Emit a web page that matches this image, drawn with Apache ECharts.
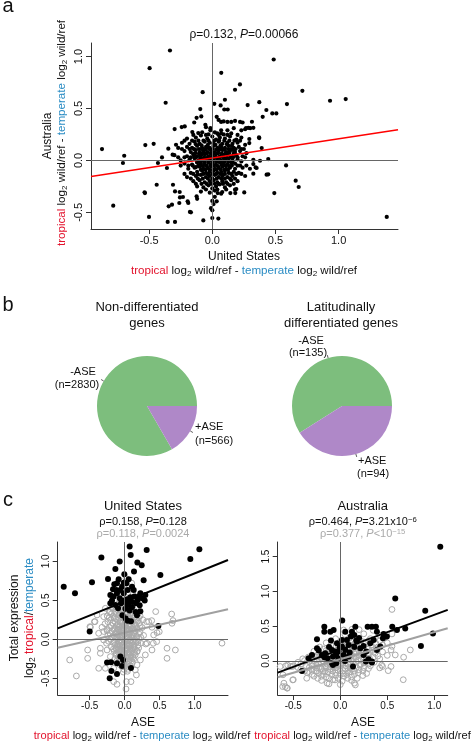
<!DOCTYPE html>
<html><head><meta charset="utf-8">
<script src="https://cdn.jsdelivr.net/npm/echarts@6/dist/echarts.min.js"></script>
<style>html,body{margin:0;padding:0;background:#fff}#c{width:472px;height:743px}</style>
</head><body><div id="c"></div>
<script>
// ---------------- DATA ----------------
// Panel a: US (x) vs Australia (y) differences
const ptsA = [
[-0.335,1.058],[-0.496,0.888],[0.071,0.843],[0.219,0.731],[0.18,0.68],[-0.076,0.657],[-0.369,0.555],[0.016,0.545],[0.1,0.584],[0.066,0.529],[0.095,0.49],[0.122,0.49],[-0.095,0.494],[-0.124,0.41],[-0.087,0.423],[-0.143,0.365],[-0.055,0.343],[-0.05,0.32],
[0.035,0.42],[0.05,0.39],[0.07,0.37],[0.09,0.375],[0.12,0.37],[0.15,0.37],[0.18,0.38],[0.22,0.37],[0.24,0.365],
[-0.298,0.302],[-0.242,0.321],[-0.218,0.327],[-0.158,0.273],[-0.111,0.263],[-0.015,0.31],[-0.015,0.29],
[0.07,0.29],[0.12,0.29],[0.17,0.31],[0.23,0.29],[0.26,0.3],[0.04,0.26],[0.07,0.26],
[0.486,0.971],[0.713,0.67],[0.932,0.574],[1.056,0.59],[0.591,0.542],[0.372,0.561],[0.28,0.533],[0.428,0.485],[0.475,0.452],[0.507,0.452],[0.399,0.42],[0.314,0.372],[0.267,0.31],[0.30,0.31],
[-0.873,0.109],[-0.697,0.045],[-0.707,-0.025],[-0.53,0.148],[-0.464,0.16],[-0.784,-0.436],[-0.533,-0.314],[-0.501,-0.544],[-0.44,-0.234],[-0.345,-0.442],[-0.353,-0.592],[-0.295,-0.592],[-0.169,-0.5],
[-0.311,-0.234],[-0.295,-0.298],[-0.258,-0.304],[-0.232,-0.352],[-0.195,-0.394],[-0.261,-0.41],[-0.124,-0.346],[-0.12,-0.37],[-0.177,-0.496],[-0.071,-0.577],
[-0.43,-0.025],[-0.359,-0.073],[-0.398,0.029],[-0.348,0.113],[-0.314,0.055],[-0.287,0.151],[-0.536,-0.307],[-0.319,-0.426],[-0.256,-0.356],[-0.19,-0.41],
[0,-0.554],[0.048,-0.56],[0,-0.48],[0.0,-0.39],[0.01,-0.42],[-0.01,-0.46],[0.02,-0.35],[0.035,-0.394],
[0.043,-0.314],[0.079,-0.304],[0.143,-0.314],[0.182,-0.314],[0.19,-0.275],[0.253,-0.308],[0.18,-0.282],
[1.381,-0.544],[0.66,-0.195],[0.684,-0.256],[0.491,-0.314],[0.584,-0.048],[0.443,-0.134],[0.443,0.013],[0.372,0.215],[0.391,0.119],[0.293,0.206],[0.293,0.167],[0.378,-0.003],[0.343,-0.067],[0.325,0.006],[0.325,-0.035],[0.298,-0.08],[0.325,-0.128],[0.37,0.221],[0.325,0.314],[0.285,0.314],[0.43,-0.137],[0.351,-0.073],
[-0.2,0.21],[-0.13,0.22],[-0.09,0.24],[-0.04,0.21],[0.0,0.23],[0.03,0.2],[0.06,0.22],[0.1,0.21],[0.14,0.23],[0.19,0.2],[0.23,0.22],
[-0.24,0.17],[-0.18,0.16],[-0.14,0.18],[-0.1,0.16],[-0.06,0.18],[-0.02,0.17],[0.01,0.16],[0.05,0.18],[0.08,0.16],[0.12,0.17],[0.16,0.16],[0.2,0.17],[0.26,0.15],
[-0.27,0.12],[-0.2,0.13],[-0.16,0.12],[-0.12,0.14],[-0.08,0.12],[-0.05,0.13],[-0.02,0.12],[0.01,0.14],[0.04,0.12],[0.07,0.13],[0.1,0.12],[0.13,0.14],[0.17,0.12],[0.21,0.13],[0.25,0.11],
[-0.22,0.09],[-0.17,0.08],[-0.13,0.1],[-0.1,0.08],[-0.07,0.09],[-0.04,0.08],[-0.01,0.1],[0.02,0.08],[0.05,0.09],[0.08,0.1],[0.11,0.08],[0.14,0.09],[0.18,0.08],[0.22,0.09],[0.27,0.07],
[-0.3,0.05],[-0.2,0.04],[-0.15,0.06],[-0.12,0.04],[-0.09,0.05],[-0.06,0.06],[-0.03,0.04],[0.0,0.05],[0.03,0.06],[0.06,0.04],[0.09,0.05],[0.12,0.06],[0.15,0.04],[0.19,0.05],[0.24,0.04],
[-0.25,0.0],[-0.18,0.01],[-0.14,0.02],[-0.11,0.0],[-0.08,0.01],[-0.05,0.02],[-0.02,0.0],[0.01,0.01],[0.04,0.02],[0.07,0.0],[0.1,0.01],[0.13,0.02],[0.16,0.0],[0.2,0.01],[0.23,-0.01],
[-0.22,-0.03],[-0.16,-0.04],[-0.12,-0.02],[-0.09,-0.03],[-0.06,-0.04],[-0.03,-0.02],[0.0,-0.03],[0.03,-0.04],[0.06,-0.02],[0.09,-0.03],[0.12,-0.04],[0.15,-0.02],[0.18,-0.03],[0.22,-0.05],
[-0.19,-0.08],[-0.14,-0.07],[-0.1,-0.06],[-0.07,-0.08],[-0.04,-0.07],[-0.01,-0.06],[0.02,-0.08],[0.05,-0.07],[0.08,-0.06],[0.11,-0.08],[0.14,-0.07],[0.18,-0.08],[0.24,-0.07],
[-0.17,-0.12],[-0.12,-0.11],[-0.08,-0.1],[-0.05,-0.12],[-0.02,-0.11],[0.01,-0.1],[0.04,-0.12],[0.07,-0.11],[0.1,-0.1],[0.13,-0.12],[0.17,-0.11],[0.21,-0.12],
[-0.2,-0.16],[-0.13,-0.15],[-0.09,-0.14],[-0.05,-0.16],[-0.02,-0.15],[0.02,-0.14],[0.05,-0.16],[0.08,-0.15],[0.12,-0.16],[0.16,-0.15],[0.26,-0.15],
[-0.15,-0.2],[-0.1,-0.19],[-0.06,-0.21],[-0.02,-0.2],[0.01,-0.19],[0.04,-0.21],[0.08,-0.2],[0.11,-0.21],[0.15,-0.19],[0.2,-0.2],
[-0.12,-0.25],[-0.07,-0.26],[-0.03,-0.24],[0.0,-0.27],[0.03,-0.25],[0.06,-0.23],[0.1,-0.26],[0.14,-0.24],
[-0.09,-0.3],[-0.02,-0.31],[0.02,-0.29],[0.07,-0.32],
[-0.08,0.27],[-0.03,0.25],[0.02,0.27],[0.09,0.25],[0.15,0.26],
[-0.13,0.155],[-0.085,0.145],[-0.035,0.15],[0.025,0.15],[0.065,0.145],[0.115,0.155],[0.155,0.14],
[-0.14,0.105],[-0.085,0.11],[-0.055,0.105],[-0.025,0.11],[0.035,0.105],[0.065,0.11],[0.095,0.105],[0.125,0.11],[0.165,0.1],
[-0.135,0.07],[-0.105,0.065],[-0.075,0.07],[-0.045,0.065],[-0.015,0.07],[0.015,0.065],[0.045,0.07],[0.075,0.065],[0.105,0.07],[0.135,0.075],[0.17,0.065],
[-0.13,0.03],[-0.095,0.025],[-0.065,0.03],[-0.035,0.025],[-0.005,0.03],[0.025,0.03],[0.055,0.025],[0.085,0.03],[0.115,0.025],[0.145,0.03],
[-0.12,-0.015],[-0.09,-0.01],[-0.06,-0.015],[-0.03,-0.01],[0.005,-0.015],[0.035,-0.01],[0.065,-0.015],[0.095,-0.01],[0.125,-0.015],[0.16,-0.015],
[-0.11,-0.05],[-0.075,-0.055],[-0.045,-0.05],[-0.015,-0.045],[0.015,-0.05],[0.045,-0.055],[0.075,-0.045],[0.105,-0.05],[0.135,-0.055],
[-0.09,-0.09],[-0.055,-0.09],[-0.025,-0.085],[0.005,-0.09],[0.035,-0.09],[0.065,-0.085],[0.095,-0.09],[0.125,-0.09],
[-0.07,-0.13],[-0.035,-0.13],[0.0,-0.13],[0.03,-0.13],[0.065,-0.13],[0.1,-0.13],
[-0.22,0.19],[-0.16,0.19],[-0.11,0.19],[-0.07,0.19],[-0.03,0.19],[0.015,0.19],[0.055,0.19],[0.095,0.19],[0.135,0.19],[0.175,0.19],[0.22,0.19],
[-0.24,0.11],[-0.18,0.11],[-0.145,0.11],[-0.105,0.11],[-0.035,0.125],[0.005,0.11],[0.055,0.115],[0.145,0.11],[0.185,0.11],[0.23,0.11],
[-0.27,0.03],[-0.22,0.03],[-0.17,0.03],[-0.145,0.045],[0.165,0.03],[0.2,0.03],[0.26,0.03],
[-0.25,-0.05],[-0.19,-0.05],[-0.155,-0.05],[-0.13,-0.065],[0.155,-0.05],[0.2,-0.05],[0.27,-0.05],
[-0.22,-0.13],[-0.15,-0.13],[-0.115,-0.135],[0.15,-0.13],[0.19,-0.13],[0.23,-0.13],[-0.03,-0.135],[0.085,-0.135],
[-0.17,-0.175],[-0.115,-0.175],[-0.075,-0.175],[-0.035,-0.175],[0.0,-0.175],[0.035,-0.175],[0.07,-0.175],[0.1,-0.175],[0.14,-0.175],[0.18,-0.175],
[-0.13,-0.225],[-0.085,-0.225],[-0.045,-0.225],[-0.01,-0.225],[0.02,-0.225],[0.05,-0.225],[0.085,-0.225],[0.12,-0.225],[0.17,-0.225],
[-0.15,0.245],[-0.05,0.245],[0.05,0.245],[0.12,0.245],[0.2,0.245],
[-0.05,-0.28],[0.04,-0.28],[0.11,-0.28]
];
const fitA = [0.023, 0.185];          // intercept, slope (red line)

// Panel b: pies
const pieCats = ['-ASE', '+ASE'];
const pieNonDiff = [2830, 566];
const pieLatDiff = [135, 94];
const pieTitles = [['Non-differentiated', 'genes'], ['Latitudinally', 'differentiated genes']];

// Panel c: United States
const usAll = [
[1.39,-0.05],[-0.786,-0.265],[-0.69,-0.47],[-0.529,-0.137],[-0.529,-0.244],[-0.371,-0.372],[-0.49,0.154],[-0.433,0.226],[-0.348,-0.115],[-0.348,-0.179],[0.019,-0.637],[0.167,-0.457],[0.176,-0.329],[0.443,0.355],[0.676,0.205],[0.69,0.24],[0.605,-0.115],[0.605,-0.244],[0.724,-0.137],[-0.395,0.312],[-0.3,0.29],[-0.276,0.397],[-0.205,0.354],[-0.324,0.154],[-0.252,0.111],[0.343,0.226],[0.39,0.154],[0.414,0.056],[0.462,0.085],[0.319,-0.051],[0.39,-0.137],[0.295,-0.2],[0.224,-0.265],[0.176,-0.158],[-0.205,-0.222],[-0.252,-0.137],[-0.3,-0.009],[-0.372,0.077],[-0.276,-0.372],[-0.157,-0.372],[0.152,-0.393],[0.09,-0.543],[-0.157,-0.543],[-0.11,-0.577],[0.024,-0.543],[0.3,-0.06],[0.409,-0.051],[0.457,-0.03],[0.494,0.097],[0.314,0.226],[0.386,0.239],[0.671,0.324],[-0.496,0.162],[-0.424,0.226],
[-0.1,0.45],[0.04,0.46],[0.12,0.44],
[-0.18,0.4],[-0.06,0.41],[0.02,0.39],[0.08,0.41],[0.16,0.4],
[-0.22,0.35],[-0.13,0.36],[-0.04,0.34],[0.03,0.35],[0.1,0.36],[0.2,0.34],
[-0.25,0.3],[-0.16,0.29],[-0.08,0.31],[-0.02,0.3],[0.05,0.29],[0.12,0.31],[0.22,0.3],
[-0.2,0.25],[-0.12,0.26],[-0.06,0.24],[0.0,0.25],[0.06,0.26],[0.1,0.24],[0.17,0.25],[0.26,0.25],
[-0.28,0.2],[-0.17,0.21],[-0.1,0.19],[-0.04,0.2],[0.02,0.21],[0.08,0.19],[0.14,0.2],[0.21,0.21],
[-0.22,0.15],[-0.14,0.14],[-0.08,0.16],[-0.03,0.15],[0.03,0.14],[0.07,0.16],[0.12,0.15],[0.18,0.14],[0.25,0.15],
[-0.3,0.1],[-0.18,0.11],[-0.12,0.09],[-0.06,0.1],[-0.01,0.11],[0.04,0.09],[0.09,0.1],[0.15,0.11],[0.22,0.09],
[-0.24,0.05],[-0.15,0.04],[-0.09,0.06],[-0.04,0.05],[0.01,0.04],[0.06,0.06],[0.11,0.05],[0.17,0.04],[0.27,0.05],
[-0.2,0.0],[-0.13,0.01],[-0.07,-0.01],[-0.02,0.0],[0.03,0.01],[0.08,-0.01],[0.14,0.0],[0.2,0.01],
[-0.26,-0.05],[-0.16,-0.04],[-0.1,-0.06],[-0.05,-0.05],[0.0,-0.04],[0.05,-0.06],[0.1,-0.05],[0.16,-0.04],[0.23,-0.05],
[-0.19,-0.1],[-0.12,-0.11],[-0.07,-0.09],[-0.02,-0.1],[0.03,-0.11],[0.08,-0.09],[0.13,-0.1],[0.2,-0.11],
[-0.15,-0.15],[-0.09,-0.16],[-0.04,-0.14],[0.01,-0.15],[0.06,-0.16],[0.11,-0.14],[0.18,-0.15],
[-0.12,-0.2],[-0.06,-0.21],[-0.01,-0.19],[0.04,-0.2],[0.09,-0.21],[0.15,-0.2],
[-0.14,-0.25],[-0.08,-0.26],[-0.02,-0.24],[0.03,-0.25],[0.08,-0.26],[0.13,-0.25],
[-0.07,-0.3],[-0.01,-0.31],[0.05,-0.29],[0.11,-0.3],
[-0.04,-0.35],[0.02,-0.36],[0.08,-0.34],
[-0.02,-0.42],[0.04,-0.41],
[-0.05,0.38],[0.0,0.32],[-0.03,0.22],[0.0,0.17],[-0.05,0.12],[0.0,0.07],[-0.05,0.02],[0.0,-0.02],[-0.04,-0.08],[0.0,-0.13],[0.05,-0.13],[0.05,0.12],[0.05,0.22],[0.05,-0.02],[-0.1,0.02],[0.1,0.02],[-0.1,0.13],[0.1,0.13],[-0.09,-0.13],[0.08,0.33],[-0.07,0.5],[0.0,0.55],[0.08,0.5],[0.12,0.58],[-0.1,0.6],[0.05,0.65],[0.1,0.72],[0.02,0.78],
[-0.14,0.425],[0.0,0.425],[0.08,0.425],
[-0.1,0.375],[-0.02,0.375],[0.06,0.375],[0.13,0.375],
[-0.19,0.325],[-0.12,0.325],[-0.06,0.325],[0.08,0.325],[0.16,0.325],
[-0.22,0.275],[-0.15,0.275],[-0.09,0.275],[-0.03,0.275],[0.03,0.275],[0.08,0.275],[0.14,0.275],[0.2,0.275],
[-0.24,0.225],[-0.14,0.225],[-0.07,0.225],[0.05,0.235],[0.11,0.225],[0.18,0.225],
[-0.19,0.175],[-0.12,0.175],[-0.06,0.175],[0.01,0.185],[0.05,0.175],[0.1,0.175],[0.16,0.175],[0.22,0.175],
[-0.25,0.125],[-0.15,0.125],[-0.09,0.125],[-0.03,0.125],[0.02,0.125],[0.07,0.125],[0.12,0.125],[0.18,0.125],
[-0.21,0.075],[-0.12,0.075],[-0.07,0.075],[-0.02,0.075],[0.02,0.075],[0.07,0.075],[0.13,0.075],[0.2,0.075],
[-0.17,0.025],[-0.11,0.025],[-0.07,0.025],[0.06,0.025],[0.11,0.025],[0.17,0.025],[0.23,0.025],
[-0.23,-0.025],[-0.15,-0.025],[-0.08,-0.025],[0.02,-0.025],[0.08,-0.025],[0.12,-0.025],[0.19,-0.025],
[-0.14,-0.075],[-0.08,-0.075],[-0.03,-0.075],[0.03,-0.075],[0.07,-0.075],[0.13,-0.075],[0.19,-0.075],
[-0.16,-0.125],[-0.12,-0.125],[-0.06,-0.125],[0.02,-0.125],[0.09,-0.125],[0.15,-0.125],
[-0.12,-0.175],[-0.06,-0.175],[-0.01,-0.175],[0.04,-0.175],[0.08,-0.175],[0.14,-0.175],
[-0.09,-0.225],[-0.03,-0.225],[0.02,-0.225],[0.07,-0.225],[0.12,-0.225],
[-0.11,-0.275],[-0.05,-0.275],[0.0,-0.275],[0.06,-0.275],[0.1,-0.275],
[-0.07,-0.325],[-0.01,-0.325],[0.05,-0.325],
[-0.01,-0.385],[0.05,-0.385]
];
const usDiff = [
[-0.871,0.675],[-0.71,0.59],[-0.467,0.731],[-0.333,1.047],[-0.238,0.774],[-0.133,0.902],[-0.071,0.996],[-0.005,0.833],[0.071,1.188],[0.086,1.081],[0.181,0.983],[0.243,0.949],[0.133,0.868],[0.314,1.145],[0.271,0.756],[0.51,0.825],[0.938,1.03],[1.067,1.154],[0.481,0.171],[-0.5,0.1],
[-0.148,0.705],[-0.11,0.718],[-0.167,0.641],[-0.119,0.632],[-0.014,0.726],[0.024,0.718],[0.043,0.632],[-0.038,0.675],[-0.205,0.568],[-0.157,0.547],[-0.11,0.59],[-0.071,0.526],[-0.181,0.496],[-0.133,0.44],[-0.052,0.462],[-0.014,0.496],[0.033,0.513],[0.081,0.538],[0.11,0.479],[0.138,0.547],[0.162,0.462],[0.186,0.504],[0.214,0.436],[0.252,0.526],[0.286,0.496],[0.105,0.41],[0.052,0.44],[0.01,0.393],[0.071,0.368],[0.157,0.35],[0.224,0.359],[-0.033,0.308],[0.014,0.265],[0.043,0.239],[0.09,0.231],[0.176,0.308],[0.024,0.462],[0.057,0.483],[0.2,0.547],[-0.062,0.632],[-0.014,0.59],[-0.095,0.397],[0.129,0.632],[0.295,0.568],[-0.086,0.769],[0.057,0.769],[0.105,0.675],[-0.205,0.462],[0.224,0.59],
[-0.195,-0.295],[-0.252,-0.299],[-0.062,-0.222],[-0.024,-0.265],[-0.19,-0.406],[-0.11,-0.444],[-0.214,-0.5],[0.09,-0.368],[-0.038,-0.342],[-0.11,-0.308]
];
const fitUSdiff = [0.485, 0.36];
const fitUSall = [0.086, 0.203];

// Panel c: Australia
const auAll = [
[-0.6,-0.32],[-0.585,-0.37],[-0.567,-0.39],[-0.61,-0.2],[-0.53,-0.08],[-0.56,-0.06],[-0.5,-0.27],[-0.336,-0.153],[-0.14,-0.32],[0.16,-0.345],[0.67,-0.27],[0.54,-0.08],[0.44,-0.06],[0.55,0.74],[0.745,0.158],[0.585,0.086],[0.674,0.053],[0.54,0.158],[0.124,0.455],[0.035,0.445],[0.55,0.388],[0.46,0.325],[0.51,-0.14],[0.42,-0.1],[-0.056,-0.273],[-0.2,-0.22],[-0.357,-0.249],[-0.506,-0.273],[-0.613,-0.369],[-0.564,-0.392],[-0.64,-0.08],[-0.58,-0.07],[-0.51,-0.08],[-0.3,-0.07],[-0.25,-0.1],[-0.18,-0.15],
[0.2,0.45],[0.35,0.44],
[0.05,0.38],[0.25,0.39],[0.42,0.37],
[-0.05,0.32],[0.1,0.33],[0.2,0.31],[0.32,0.32],[0.47,0.33],
[-0.15,0.26],[0.0,0.27],[0.08,0.25],[0.16,0.26],[0.26,0.27],[0.38,0.25],[0.5,0.26],
[-0.22,0.2],[-0.08,0.21],[0.02,0.19],[0.1,0.2],[0.18,0.21],[0.28,0.19],[0.4,0.2],[0.55,0.21],
[-0.28,0.14],[-0.15,0.15],[-0.05,0.13],[0.03,0.14],[0.1,0.15],[0.17,0.13],[0.25,0.14],[0.34,0.15],[0.45,0.13],
[-0.3,0.08],[-0.2,0.09],[-0.1,0.07],[-0.02,0.08],[0.06,0.09],[0.12,0.07],[0.2,0.08],[0.29,0.09],[0.4,0.07],[0.5,0.08],
[-0.4,0.03],[-0.25,0.02],[-0.15,0.04],[-0.07,0.03],[0.0,0.02],[0.07,0.04],[0.14,0.03],[0.22,0.02],[0.31,0.04],[0.42,0.03],
[-0.45,-0.02],[-0.33,-0.01],[-0.2,-0.03],[-0.12,-0.02],[-0.04,-0.01],[0.03,-0.03],[0.1,-0.02],[0.17,-0.01],[0.25,-0.03],[0.36,-0.02],
[-0.5,-0.07],[-0.36,-0.08],[-0.26,-0.06],[-0.16,-0.07],[-0.08,-0.08],[-0.01,-0.06],[0.06,-0.07],[0.13,-0.08],[0.21,-0.06],[0.32,-0.07],[0.45,-0.08],
[-0.42,-0.12],[-0.3,-0.13],[-0.2,-0.11],[-0.11,-0.12],[-0.03,-0.13],[0.05,-0.11],[0.12,-0.12],[0.2,-0.13],[0.3,-0.11],
[-0.35,-0.17],[-0.23,-0.18],[-0.13,-0.16],[-0.05,-0.17],[0.03,-0.18],[0.1,-0.16],[0.19,-0.17],[0.28,-0.18],
[-0.28,-0.22],[-0.15,-0.23],[-0.05,-0.21],[0.04,-0.22],[0.12,-0.23],[0.24,-0.21],
[-0.2,-0.28],[-0.08,-0.27],[0.02,-0.29],[0.12,-0.28],
[-0.12,-0.33],[0.0,-0.34],[0.15,-0.32],
[-0.1,-0.04],[-0.06,0.0],[0.0,-0.05],[0.04,0.0],[-0.03,0.05],[0.08,0.01],[-0.15,-0.1],[0.15,0.06],[-0.2,0.05],[0.2,0.11],[-0.05,-0.1],[0.08,-0.1],[-0.25,-0.15],[0.1,0.1],
[0.04,0.29],[0.12,0.29],[0.22,0.29],[0.3,0.29],[0.42,0.29],
[-0.1,0.23],[0.05,0.23],[0.13,0.23],[0.22,0.23],[0.33,0.23],[0.45,0.23],
[-0.18,0.17],[-0.1,0.17],[-0.01,0.17],[0.07,0.17],[0.14,0.17],[0.21,0.17],[0.3,0.17],[0.38,0.17],
[-0.23,0.11],[-0.15,0.11],[-0.07,0.11],[0.0,0.11],[0.08,0.11],[0.15,0.11],[0.22,0.12],[0.3,0.11],[0.37,0.11],
[-0.34,0.055],[-0.25,0.055],[-0.16,0.055],[-0.06,0.055],[0.03,0.055],[0.1,0.055],[0.17,0.055],[0.25,0.055],[0.35,0.055],
[-0.38,0.005],[-0.28,0.005],[-0.19,0.005],[-0.1,0.005],[-0.02,0.005],[0.05,0.005],[0.12,0.005],[0.19,0.005],[0.27,0.005],
[-0.42,-0.045],[-0.3,-0.045],[-0.23,-0.045],[-0.14,-0.045],[-0.06,-0.045],[0.01,-0.045],[0.08,-0.045],[0.14,-0.045],[0.22,-0.045],[0.3,-0.045],
[-0.45,-0.095],[-0.33,-0.095],[-0.23,-0.095],[-0.15,-0.095],[-0.07,-0.095],[0.0,-0.095],[0.1,-0.095],[0.17,-0.095],[0.25,-0.095],
[-0.38,-0.145],[-0.26,-0.145],[-0.16,-0.145],[-0.08,-0.145],[0.0,-0.145],[0.08,-0.145],[0.15,-0.145],[0.24,-0.145],
[-0.3,-0.195],[-0.18,-0.195],[-0.09,-0.195],[0.0,-0.195],[0.07,-0.195],[0.15,-0.195],
[-0.24,-0.25],[-0.12,-0.25],[-0.02,-0.25],[0.08,-0.25],[0.18,-0.25]
];
const auDiff = [
[1.064,1.643],[0.585,0.896],[0.904,0.723],[0.986,0.393],[0.858,0.216],[0.691,0.465],[0.603,0.445],[0.553,0.493],[0.496,0.35],[0.379,0.493],[0.291,0.493],[0.16,0.493],[0.053,0.421],[0.021,0.58],[-0.071,0.445],[-0.106,0.421],[-0.17,0.493],[-0.17,0.421],[-0.248,0.311],[-0.248,0.182],[-0.301,0.086],[-0.337,0.038],[-0.408,-0.144],[-0.099,0.292],[-0.089,0.158],[-0.043,-0.034],[-0.078,-0.057],[0.135,-0.081],[0.301,0.024],[0.337,-0.024],[0.39,0.158],[0.426,0.206],[0.454,0.326],[0.461,0.388],[0.355,0.302],[0.319,0.254],[0.248,0.216],[0.213,0.182],[0.177,0.278],[0.113,0.35],[0.089,0.23],[0.053,0.158],[0.018,0.206],[-0.018,0.134],[-0.043,0.086],[-0.078,0.062],[-0.195,0.086],[-0.16,0.11],[-0.135,0.038],[0.124,0.421],[0.149,0.374],[0.17,0.292],[0.248,0.086],[0.277,0.134],[0.337,0.493],[0.39,0.421],[0.071,0.302],[0.018,0.302],[-0.035,0.254],[0.035,0.086],[0.089,0.062],[-0.007,0.196],[-0.053,0.134],[-0.09,-0.03],[0.273,-0.01],[0.336,-0.01],[-0.17,0.053],[-0.23,0.15],[0.1,0.12],[0.15,0.2],[0.2,0.33],[-0.02,0.03],[0.05,0.0],[-0.12,0.2]
];
const fitAUdiff = [0.164, 0.498];
const fitAUall = [0.025, 0.389];

// Tick labels
const ticksA = [-0.5, 0, 0.5, 1.0];
const ticksC = [-0.5, 0, 0.5, 1.0];
const ticksAUy = [0, 0.5, 1.0, 1.5];

// ---------------- STYLE / LAYOUT ----------------
const FONT = 'Liberation Sans, Arial, Helvetica, sans-serif';
const RED = '#e3122c', BLUE = '#2a8cc4', GRAY = '#aaaaaa', AX = '#333';
const PIECOL = ['#7dbe7d', '#af88c8'];

function richSet(fs, base) {
  const f = {fontSize: fs, fontFamily: FONT, lineHeight: fs * 1.2};
  return {
    r: Object.assign({fill: RED}, f),
    b: Object.assign({fill: BLUE}, f),
    i: Object.assign({fontStyle: 'italic', fill: base}, f),
    n: Object.assign({fill: base}, f),
    s: {fontSize: fs * 0.7, fontFamily: FONT, lineHeight: fs * 0.5, verticalAlign: 'bottom', fill: base},
    sup: {fontSize: fs * 0.7, fontFamily: FONT, lineHeight: fs * 0.7, verticalAlign: 'top', fill: base}
  };
}
function T(x, y, text, o) {
  o = o || {};
  const fs = o.fs || 12, fill = o.fill || '#111';
  return {type: 'text', x: x, y: y, rotation: o.rot || 0, silent: true, z: 100,
    style: {text: text, fontSize: fs, fontFamily: FONT, fill: fill, lineHeight: fs * 1.2,
      align: o.align || 'center', verticalAlign: 'middle', rich: richSet(fs, fill)}};
}
function fitLine(fit, xmin, xmax) {
  return [[xmin, fit[0] + fit[1] * xmin], [xmax, fit[0] + fit[1] * xmax]];
}
const fmt = v => v.toFixed(1);
function xAx(gi, min, max, ticks, fs) {
  return {type: 'value', gridIndex: gi, min: min, max: max, splitLine: {show: false},
    axisLine: {show: true, onZero: false, lineStyle: {color: AX, width: 1}},
    axisTick: {show: true, length: 5, inside: false, customValues: ticks, lineStyle: {color: AX}},
    axisLabel: {customValues: ticks, formatter: fmt, fontSize: fs, color: '#111', margin: 6, fontFamily: FONT}};
}
function yAx(gi, min, max, ticks, fs, margin) {
  return {type: 'value', gridIndex: gi, min: min, max: max, splitLine: {show: false},
    axisLine: {show: true, onZero: false, lineStyle: {color: AX, width: 1}},
    axisTick: {show: true, length: 5, inside: false, customValues: ticks, lineStyle: {color: AX}},
    axisLabel: {customValues: ticks, formatter: fmt, fontSize: fs, color: '#111', margin: margin, rotate: 90, fontFamily: FONT}};
}
const zeroLines = {silent: true, symbol: 'none', animation: false, label: {show: false},
  lineStyle: {color: '#666', width: 1, type: 'solid'}, emphasis: {disabled: true},
  data: [{xAxis: 0}, {yAxis: 0}]};

const AX_A = {x: [-0.96, 1.47], y: [-0.66, 1.13]};
const AX_US = {x: [-0.957, 1.476], y: [-0.714, 1.247]};
const AX_AU = {x: [-0.666, 1.143], y: [-0.49, 1.71]};

const PIES = [{c: [147, 406], r: 50, data: pieNonDiff}, {c: [342, 406], r: 50, data: pieLatDiff}];
function midPoint(p, i, k) {
  const tot = p.data.reduce((a, b) => a + b, 0);
  let cum = 0; for (let j = 0; j < i; j++) cum += p.data[j];
  const ang = (cum + p.data[i] / 2) / tot * 2 * Math.PI;
  return [p.c[0] + p.r * k * Math.cos(ang), p.c[1] - p.r * k * Math.sin(ang)];
}

const graphics = [];
graphics.push(T(8, 6, 'a', {fs: 20}));
graphics.push(T(8, 305, 'b', {fs: 20}));
graphics.push(T(8, 500, 'c', {fs: 20}));
graphics.push(T(244, 35, 'ρ=0.132, {i|P}=0.00066', {fs: 12}));
graphics.push(T(244, 257, 'United States', {fs: 12}));
graphics.push(T(244, 271, '{r|tropical} log{s|2} wild/ref - {b|temperate} log{s|2} wild/ref', {fs: 11.6}));
graphics.push(T(48, 136, 'Australia', {fs: 12, rot: Math.PI / 2}));
graphics.push(T(62, 133, '{r|tropical} log{s|2} wild/ref - {b|temperate} log{s|2} wild/ref', {fs: 11.6, rot: Math.PI / 2}));
graphics.push(T(147, 307, pieTitles[0][0], {fs: 13}));
graphics.push(T(147, 323, pieTitles[0][1], {fs: 13}));
graphics.push(T(341, 307, pieTitles[1][0], {fs: 13}));
graphics.push(T(341, 323, pieTitles[1][1], {fs: 13}));
const pieLabelPos = [
  [[83, 372, 'center'], [77, 385, 'center']],
  [[195, 427, 'left'], [195, 441, 'left']],
  [[311, 341, 'center'], [308, 353, 'center']],
  [[358, 461, 'left'], [357, 474, 'left']]
];
PIES.forEach((p, pi) => {
  p.data.forEach((v, i) => {
    const pos = pieLabelPos[pi * 2 + i];
    graphics.push(T(pos[0][0], pos[0][1], pieCats[i], {fs: 11, align: pos[0][2]}));
    graphics.push(T(pos[1][0], pos[1][1], '(n=' + v + ')', {fs: 11, align: pos[1][2]}));
    const a = midPoint(p, i, 1.0), b = midPoint(p, i, 1.06);
    graphics.push({type: 'line', silent: true, z: 100, shape: {x1: a[0], y1: a[1], x2: b[0], y2: b[1]}, style: {stroke: '#333', lineWidth: 0.8}});
  });
});
graphics.push(T(143, 506, 'United States', {fs: 13}));
graphics.push(T(143, 522, 'ρ=0.158, {i|P}=0.128', {fs: 11}));
graphics.push(T(143, 534, 'ρ=0.118, {i|P}=0.0024', {fs: 11, fill: GRAY}));
graphics.push(T(362.7, 506, 'Australia', {fs: 13}));
graphics.push(T(362.7, 522, 'ρ=0.464, {i|P}=3.21x10{sup|−6}', {fs: 11}));
graphics.push(T(362.7, 534, 'ρ=0.377, {i|P}<10{sup|−15}', {fs: 11, fill: GRAY}));
graphics.push(T(15, 618, 'Total expression', {fs: 12, rot: Math.PI / 2}));
graphics.push(T(29.5, 618, 'log{s|2} {r|tropical}/{b|temperate}', {fs: 12, rot: Math.PI / 2}));
graphics.push(T(143, 723, 'ASE', {fs: 12}));
graphics.push(T(363, 723, 'ASE', {fs: 12}));
graphics.push(T(142, 736, '{r|tropical} log{s|2} wild/ref - {b|temperate} log{s|2} wild/ref', {fs: 11.1}));
graphics.push(T(362.5, 736, '{r|tropical} log{s|2} wild/ref - {b|temperate} log{s|2} wild/ref', {fs: 11.1}));

const option = {
  animation: false,
  backgroundColor: '#fff',
  textStyle: {fontFamily: FONT},
  grid: [
    {left: 91, top: 43, width: 307, height: 186, outerBoundsMode: 'none', containLabel: false},
    {left: 57.7, top: 542, width: 170.3, height: 153, outerBoundsMode: 'none', containLabel: false},
    {left: 277.7, top: 542, width: 170, height: 153, outerBoundsMode: 'none', containLabel: false}
  ],
  xAxis: [xAx(0, AX_A.x[0], AX_A.x[1], ticksA, 11), xAx(1, AX_US.x[0], AX_US.x[1], ticksC, 10), xAx(2, AX_AU.x[0], AX_AU.x[1], ticksC, 10)],
  yAxis: [yAx(0, AX_A.y[0], AX_A.y[1], ticksA, 11, 7), yAx(1, AX_US.y[0], AX_US.y[1], ticksC, 10, 6), yAx(2, AX_AU.y[0], AX_AU.y[1], ticksAUy, 10, 6)],
  series: [
    {type: 'scatter', xAxisIndex: 0, yAxisIndex: 0, data: ptsA, symbolSize: 4.2, silent: true,
      itemStyle: {color: '#000', opacity: 1}, markLine: zeroLines},
    {type: 'line', xAxisIndex: 0, yAxisIndex: 0, data: fitLine(fitA, AX_A.x[0], AX_A.x[1]), symbol: 'none', silent: true,
      lineStyle: {color: '#ff0000', width: 1.6}},
    {type: 'scatter', xAxisIndex: 1, yAxisIndex: 1, data: usAll, symbolSize: 5.8, silent: true,
      itemStyle: {color: 'rgba(0,0,0,0)', borderColor: GRAY, borderWidth: 1, opacity: 1}, markLine: zeroLines},
    {type: 'scatter', xAxisIndex: 1, yAxisIndex: 1, data: usDiff, symbolSize: 6, silent: true, itemStyle: {color: '#000', opacity: 1}},
    {type: 'line', xAxisIndex: 1, yAxisIndex: 1, data: fitLine(fitUSall, AX_US.x[0], AX_US.x[1]), symbol: 'none', silent: true, lineStyle: {color: '#a0a0a0', width: 2}},
    {type: 'line', xAxisIndex: 1, yAxisIndex: 1, data: fitLine(fitUSdiff, AX_US.x[0], AX_US.x[1]), symbol: 'none', silent: true, lineStyle: {color: '#000', width: 2}},
    {type: 'scatter', xAxisIndex: 2, yAxisIndex: 2, data: auAll, symbolSize: 5.8, silent: true,
      itemStyle: {color: 'rgba(0,0,0,0)', borderColor: GRAY, borderWidth: 1, opacity: 1}, markLine: zeroLines},
    {type: 'scatter', xAxisIndex: 2, yAxisIndex: 2, data: auDiff, symbolSize: 6, silent: true, itemStyle: {color: '#000', opacity: 1}},
    {type: 'line', xAxisIndex: 2, yAxisIndex: 2, data: fitLine(fitAUall, AX_AU.x[0], AX_AU.x[1]), symbol: 'none', silent: true, lineStyle: {color: '#a0a0a0', width: 2}},
    {type: 'line', xAxisIndex: 2, yAxisIndex: 2, data: fitLine(fitAUdiff, AX_AU.x[0], AX_AU.x[1]), symbol: 'none', silent: true, lineStyle: {color: '#000', width: 2}},
    {type: 'pie', center: PIES[0].c, radius: PIES[0].r, startAngle: 0, clockwise: false, silent: true,
      label: {show: false}, labelLine: {show: false}, itemStyle: {borderWidth: 0},
      data: pieCats.map((c, i) => ({name: c, value: pieNonDiff[i], itemStyle: {color: PIECOL[i]}}))},
    {type: 'pie', center: PIES[1].c, radius: PIES[1].r, startAngle: 0, clockwise: false, silent: true,
      label: {show: false}, labelLine: {show: false}, itemStyle: {borderWidth: 0},
      data: pieCats.map((c, i) => ({name: c, value: pieLatDiff[i], itemStyle: {color: PIECOL[i]}}))}
  ],
  graphic: graphics
};
const chart = echarts.init(document.getElementById('c'), null, {renderer: 'canvas'});
chart.setOption(option);
</script></body></html>
